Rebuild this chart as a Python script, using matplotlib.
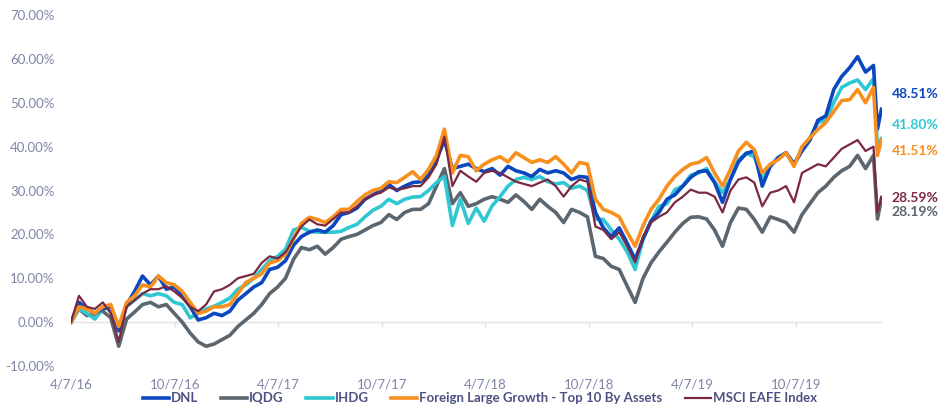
import matplotlib
matplotlib.use('Agg')
import matplotlib.pyplot as plt
import matplotlib.dates as mdates
import pandas as pd

plt.rcParams['font.family'] = ['Lato', 'DejaVu Sans']

# biweekly closes from 4/7/16, plus the last two weeks of the selloff
dates = list(pd.date_range('2016-04-07', '2020-02-20', freq='14D')) + \
    [pd.Timestamp('2020-02-27'), pd.Timestamp('2020-03-05')]

dnl = [0, 4.5, 3, 2, 3, 3.5, -2, 4, 7, 10.5, 8.5, 10.5, 7.5, 8, 6, 3.5, 0.5, 1, 2, 1.5,
       2.5, 5, 6.5, 8, 9, 12, 12.5, 14, 17.5, 19.5, 20.5, 21, 20.5, 22, 24.5, 25, 26, 28, 29, 30,
       31.4, 30, 31, 31.8, 32, 33.5, 37, 41.5, 35, 35.5, 36, 35, 34.3, 35, 33.5, 35.5, 34.5, 34, 33.2, 34.8,
       34, 34.5, 34, 32.5, 33.2, 33, 25, 21.5, 19.5, 21.5, 18, 14.3, 19, 23, 25, 28, 29, 31, 33, 34.3,
       34.5, 31.8, 27.3, 32.5, 36.5, 38.5, 39, 31, 35.5, 37.5, 38.6, 36, 39, 41.5, 46, 47, 53, 56, 58, 60.5,
       57, 58.5, 44, 48.51]

iqdg = [0, 3, 1.5, 1.8, 2.5, 1, -5.5, 0.7, 2.3, 4, 4.5, 3.5, 4, 2, 0, -2.5, -4.5, -5.5, -5, -4,
        -3, -1, 0.5, 2, 4, 6.5, 8, 10, 14.3, 17, 16.5, 17.3, 15.5, 17, 18.9, 19.5, 20, 21, 22, 22.7,
        24.5, 23.4, 25, 25.7, 25.7, 27, 31, 35, 27, 29.5, 26.4, 27, 28, 28.6, 28, 27.3, 29, 27.5, 25.7, 28,
        26.4, 25, 22.7, 25.7, 25, 24, 15, 14.5, 12.7, 12, 8.2, 4.5, 10, 13.5, 16, 18.2, 20.5, 22.5, 23.9, 24,
        23.5, 21, 17.3, 22.7, 26, 25.7, 23.4, 20.5, 24, 23.4, 22.7, 20.5, 24.5, 27, 29.5, 31, 33, 34.5, 35.5, 38,
        35, 38, 23.5, 28.19]

ihdg = [0, 3, 2, 0.7, 3, 3.5, -1, 3.6, 5, 6.5, 6, 6.5, 6, 4.5, 4, 1, 2, 3, 3.6, 4.5,
        5.5, 7.5, 8.5, 10, 12, 14, 15, 16.6, 21, 21.6, 20.7, 20.5, 20.5, 20.5, 20.7, 21.6, 22.3, 24, 25.5, 26.4,
        28, 27, 28, 28.5, 28.6, 30, 31.8, 33.2, 22, 28, 22.5, 26, 23, 26.5, 28.6, 31, 32.5, 33, 32.5, 33.2,
        32, 31.5, 31.8, 30.5, 31, 30, 23.5, 23.4, 21, 18.9, 16, 12, 19, 23, 26.4, 27, 30.2, 31, 33.5, 34,
        35, 32, 29.5, 32.5, 37, 38.5, 37.7, 32.5, 35.5, 37.5, 38.6, 36, 39.5, 42, 45.5, 46, 50, 53.5, 54.5, 55.2,
        53, 55.5, 40, 41.80]

flg = [0, 3.5, 3, 2, 3.5, 4, -1, 4.5, 6, 8.5, 8, 10.5, 9, 8.5, 7, 4.5, 2, 2.5, 3.5, 3.5,
       4, 6.5, 9, 10, 11, 13.5, 14, 15.5, 19, 22.5, 23.9, 23.4, 22.7, 24, 25.7, 25.7, 27.5, 29, 30, 30.5,
       32, 31.8, 33, 34.3, 32.5, 34.8, 38, 44, 34, 38, 37.7, 34.5, 36, 37, 37.7, 36.5, 38.6, 37.5, 36.4, 37,
       36.4, 37.7, 36, 34, 36.4, 36, 28, 25.7, 25, 24, 20.5, 17.3, 22, 25.7, 28, 31, 33.2, 34.8, 36, 36.4,
       37.5, 34, 31, 34.8, 39, 41, 39.3, 34, 36, 37, 38.6, 35.5, 40, 42, 43.9, 45.5, 48, 50.5, 50.7, 53,
       50, 53.5, 38, 41.51]

msci = [0, 6, 3.5, 3, 4.5, 2, -4.5, 3.5, 5, 6.5, 7.5, 7.5, 8.2, 7, 5.5, 3.5, 2.5, 4, 7, 7.5,
        8.5, 10, 10.5, 11, 13.5, 15, 14.5, 15.9, 19, 21.8, 23.4, 22.3, 22, 23.5, 25, 25, 26.4, 28, 29, 29.5,
        30.7, 30.2, 30.5, 31, 31, 33, 36, 42.3, 31, 34.5, 33.2, 32, 34, 34.5, 34, 33, 32, 31.5, 31, 31.8,
        32.5, 31, 28.6, 31, 32.5, 32, 21.8, 21, 18.9, 20.5, 17.3, 13.6, 19.5, 22.7, 24, 25, 27.3, 28.6, 30.2, 29.5,
        29.5, 28.6, 25, 30, 32.5, 33, 31.8, 26.4, 29.5, 30, 31, 27.3, 34, 35, 36, 35.5, 37.5, 39.5, 40.5, 41.5,
        39, 40, 25, 28.59]

names = ['DNL', 'IQDG', 'IHDG', 'Foreign Large Growth - Top 10 By Assets', 'MSCI EAFE Index']
colors = ['#0b47bf', '#5b666f', '#2fc8d2', '#f7901e', '#7b2843']
series = [dnl, iqdg, ihdg, flg, msci]
widths = [2.6, 2.6, 2.6, 2.6, 1.6]
zorders = [4, 2, 3, 5, 6]
# where the end labels sit (data units), same order as series
label_y = [52, 25, 45, 38.9, 28.2]

tick_dates = pd.to_datetime(['2016-04-07', '2016-10-07', '2017-04-07', '2017-10-07',
                             '2018-04-07', '2018-10-07', '2019-04-07', '2019-10-07'])
label_color = '#7f86a6'

fig = plt.figure(figsize=(9.41, 4.08), dpi=100)
ax = fig.add_axes([71 / 941, 1 - 366 / 408, (882 - 71) / 941, 351 / 408])

for s, name, c, w, z in zip(series, names, colors, widths, zorders):
    ax.plot(dates, s, color=c, lw=w, label=name, zorder=z, solid_joinstyle='round')

for s, c, ly in zip(series, colors, label_y):
    ax.annotate('%.2f%%' % s[-1], xy=(1, ly), xycoords=('axes fraction', 'data'),
                xytext=(7, 0), textcoords='offset points', ha='left', va='center',
                color=c, fontsize=10, fontweight='bold', annotation_clip=False)

ax.axhline(0, color='#e2e2e2', lw=1, zorder=1)
ax.vlines(tick_dates[1:], -1.1, 0, color='#e2e2e2', lw=1, zorder=1)

ax.set_ylim(-10, 70)
ax.set_xlim(pd.Timestamp('2016-04-07'), pd.Timestamp('2020-03-06'))
ax.set_yticks(range(-10, 71, 10))
ax.set_yticklabels(['%.2f%%' % v for v in range(-10, 71, 10)])
ax.set_xticks(tick_dates)
ax.xaxis.set_major_formatter(mdates.DateFormatter('%-m/%-d/%y'))
ax.tick_params(axis='both', length=0, labelsize=9.5, colors=label_color)
ax.tick_params(axis='y', pad=12)
ax.tick_params(axis='x', pad=9)
for sp in ax.spines.values():
    sp.set_visible(False)

leg = fig.legend(loc='lower center', bbox_to_anchor=(480 / 941, -0.02), ncol=5, frameon=False,
                 handlelength=2.0, handletextpad=0.15, columnspacing=1.7,
                 prop={'size': 9.5, 'weight': 'bold'})
for t in leg.get_texts():
    t.set_color('#4e5282')

fig.savefig('out.png', dpi=100)
